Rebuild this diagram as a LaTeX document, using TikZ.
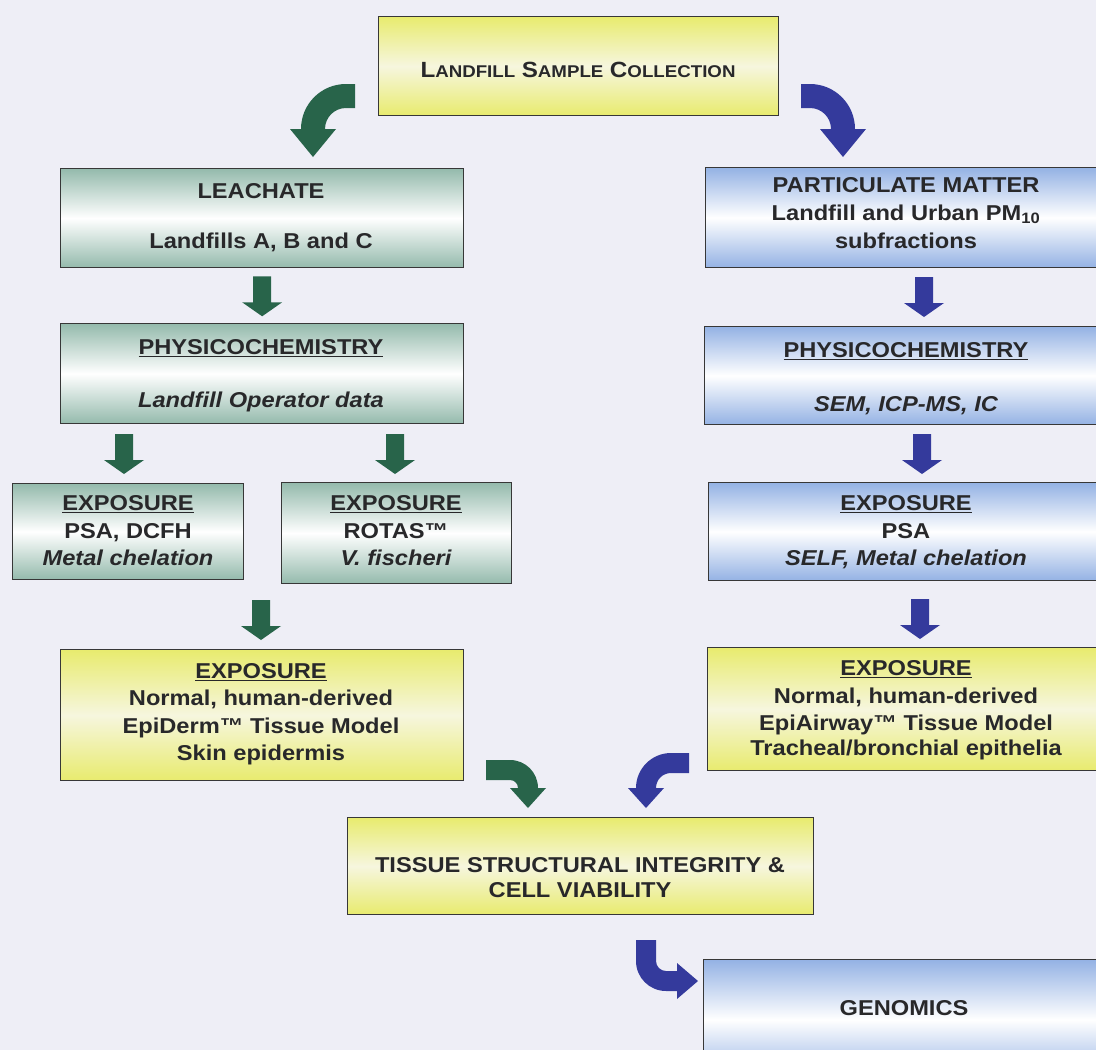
\documentclass[tikz,border=0pt]{standalone}
\usepackage{fontspec}
\setmainfont[FakeStretch=1.1]{Liberation Sans}
\usetikzlibrary{calc}
\definecolor{bg}{RGB}{238,238,246}
\definecolor{yel}{RGB}{232,235,110}
\definecolor{yelmid}{RGB}{246,246,222}
\definecolor{tealc}{RGB}{148,186,172}
\definecolor{bluec}{RGB}{148,178,228}
\definecolor{garr}{RGB}{40,100,74}
\definecolor{barr}{RGB}{52,58,156}
\definecolor{edgec}{RGB}{55,55,55}
\definecolor{ink}{RGB}{40,40,42}
\newcommand\fs{\fontsize{21.5}{28}\selectfont\bfseries}
\newcommand\ul[1]{\setbox0\hbox{#1}\rlap{\rule[-3.4pt]{\wd0}{1.3pt}}\box0}
\newcommand\bigL[1]{{\fontsize{22}{28}\selectfont #1}}
\newcommand\smL[1]{{\fontsize{17}{28}\selectfont #1}}
\begin{document}
\begin{tikzpicture}[x=1pt,y=-1pt,
  box/.style={draw=edgec, line width=1.3pt, inner sep=0pt, anchor=north west},
  ybox/.style={box, top color=yel, bottom color=yel, middle color=yelmid},
  gbox/.style={box, top color=tealc, bottom color=tealc, middle color=white},
  bbox/.style={box, top color=bluec, bottom color=bluec, middle color=white},
  txt/.style={font=\fs, text=ink, anchor=base, inner sep=0pt},
  downarr/.pic={\path[pic actions] (-9,0) -- (9,0) -- (9,26) -- (20,26) -- (0,40) -- (-20,26) -- (-9,26) -- cycle;}
]
\clip (0,0) rectangle (1096,1050);
\fill[bg] (0,0) rectangle (1096,1050);

% boxes
\node[ybox, minimum width=400pt, minimum height=99pt] (top) at (378,16) {};
\node[gbox, minimum width=403pt, minimum height=99pt] (leach) at (60,168) {};
\node[gbox, minimum width=403pt, minimum height=100pt] (physL) at (60,323) {};
\node[gbox, minimum width=231pt, minimum height=96pt] (exp1) at (12,483) {};
\node[gbox, minimum width=230pt, minimum height=101pt] (exp2) at (281,482) {};
\node[ybox, minimum width=403pt, minimum height=131pt] (yelL) at (60,649) {};
\node[bbox, minimum width=402pt, minimum height=100pt] (pm) at (705,167) {};
\node[bbox, minimum width=403pt, minimum height=98pt] (physR) at (704,326) {};
\node[bbox, minimum width=399pt, minimum height=98pt] (expR) at (708,482) {};
\node[ybox, minimum width=400pt, minimum height=123pt] (yelR) at (707,647) {};
\node[ybox, minimum width=466pt, minimum height=97pt] (tissue) at (347,817) {};
\node[bbox, minimum width=404pt, minimum height=120pt] (gen) at (703,959) {};

% texts
\node[txt] (t0) at (578,77) {\bigL{L}\smL{ANDFILL} \bigL{S}\smL{AMPLE} \bigL{C}\smL{OLLECTION}};
\node[txt] (t1a) at (261,198) {LEACHATE};
\node[txt] (t1b) at (261,248) {Landfills A, B and C};
\node[txt] (t2a) at (261,354) {\ul{PHYSICOCHEMISTRY}};
\node[txt] (t2b) at (261,407) {\itshape Landfill Operator data};
\node[txt] (t3a) at (128,510) {\ul{EXPOSURE}};
\node[txt] (t3b) at (128,538) {PSA, DCFH};
\node[txt] (t3c) at (128,565) {\itshape Metal chelation};
\node[txt] (t4a) at (396,510) {\ul{EXPOSURE}};
\node[txt] (t4b) at (396,538) {ROTAS™};
\node[txt] (t4c) at (396,565) {\itshape V. fischeri};
\node[txt] (t5a) at (261,678) {\ul{EXPOSURE}};
\node[txt] (t5b) at (261,705) {Normal, human-derived};
\node[txt] (t5c) at (261,733) {EpiDerm™ Tissue Model};
\node[txt] (t5d) at (261,760) {Skin epidermis};
\node[txt] (t6a) at (906,192) {PARTICULATE MATTER};
\node[txt] (t6b) at (906,220) {Landfill and Urban PM\textsubscript{10}};
\node[txt] (t6c) at (906,248) {subfractions};
\node[txt] (t7a) at (906,357) {\ul{PHYSICOCHEMISTRY}};
\node[txt] (t7b) at (906,411) {\itshape SEM, ICP-MS, IC};
\node[txt] (t8a) at (906,510) {\ul{EXPOSURE}};
\node[txt] (t8b) at (906,538) {PSA};
\node[txt] (t8c) at (906,565) {\itshape SELF, Metal chelation};
\node[txt] (t9a) at (906,675) {\ul{EXPOSURE}};
\node[txt] (t9b) at (906,703) {Normal, human-derived};
\node[txt] (t9c) at (906,730) {EpiAirway™ Tissue Model};
\node[txt] (t9d) at (906,755) {Tracheal/bronchial epithelia};
\node[txt] (t10a) at (580,872) {TISSUE STRUCTURAL INTEGRITY \&};
\node[txt] (t10b) at (580,897) {CELL VIABILITY};
\node[txt] (t11) at (904,1015) {GENOMICS};

% straight block arrows
\pic[fill=garr] at ($(leach.south)+(0,8)$) {downarr};
\pic[fill=garr] at (124,434) {downarr};
\pic[fill=garr] at (395,434) {downarr};
\pic[fill=garr] at (261,600) {downarr};
\pic[fill=barr] at (924,277) {downarr};
\pic[fill=barr] at (922,434) {downarr};
\pic[fill=barr] at (920,599) {downarr};

% curved arrows
\fill[garr] (355,84) -- (346,84) .. controls (321.1,84) and (301,104.1) .. (301,129) -- (290,129) -- (313,157) -- (336,129) -- (325,129) .. controls (325,117.4) and (334.4,108) .. (346,108) -- (355,108) -- cycle;
\fill[barr] (801,84) -- (810,84) .. controls (834.9,84) and (855,104.1) .. (855,129) -- (866,129) -- (843,157) -- (820,129) -- (831,129) .. controls (831,117.4) and (821.6,108) .. (810,108) -- (801,108) -- cycle;
\fill[garr] (486,760) -- (510,760) .. controls (525.5,760) and (538,772.5) .. (538,788) -- (546,788) -- (528,808) -- (510,788) -- (518,788) .. controls (518,783.6) and (514.4,780) .. (510,780) -- (486,780) -- cycle;
\fill[barr] (689,753) -- (671,753) .. controls (651.7,753) and (636,768.7) .. (636,788) -- (628,788) -- (646,808) -- (664,788) -- (656,788) .. controls (656,779.7) and (662.7,773) .. (671,773) -- (689,773) -- cycle;
\fill[barr] (636,940) -- (636,961) .. controls (636,977.6) and (649.4,991) .. (666,991) -- (677,991) -- (677,999) -- (698,981) -- (677,963) -- (677,971) -- (666,971) .. controls (660.5,971) and (656,966.5) .. (656,961) -- (656,940) -- cycle;
\end{tikzpicture}
\end{document}
